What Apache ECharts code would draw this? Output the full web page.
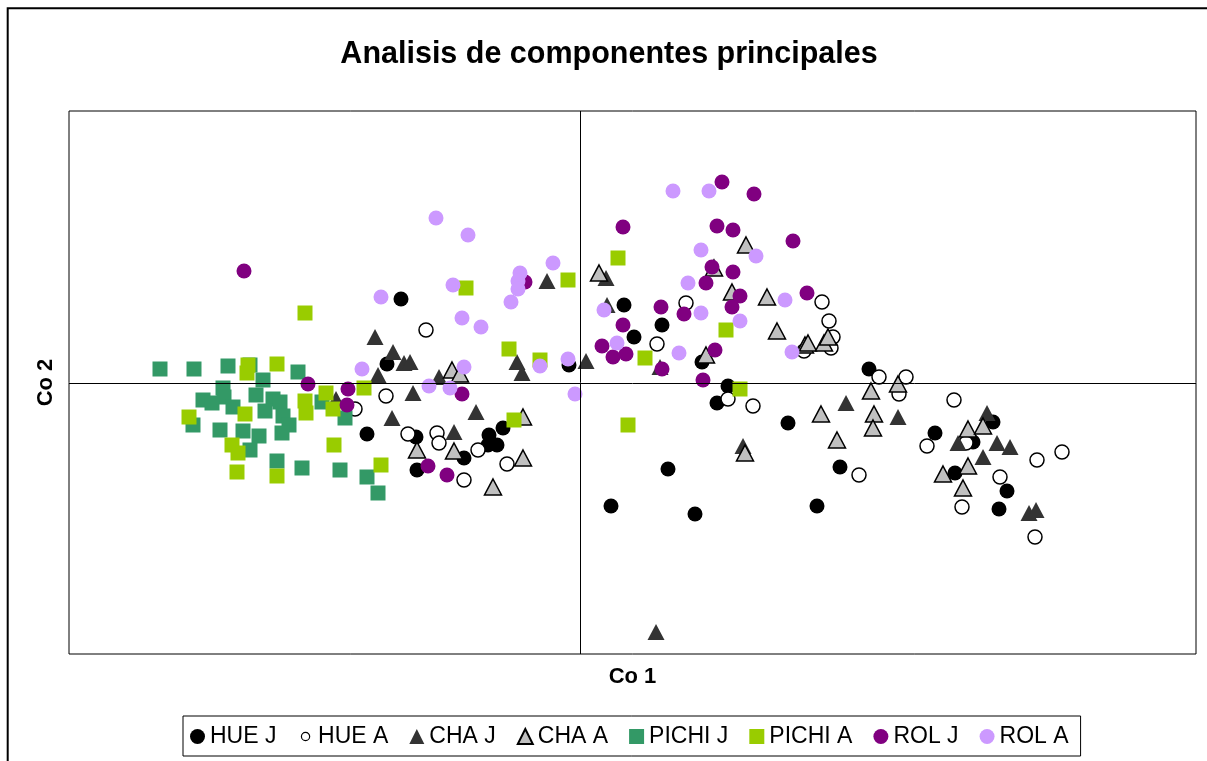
<!DOCTYPE html>
<html>
<head>
<meta charset="utf-8">
<script src="https://cdn.jsdelivr.net/npm/echarts@6/dist/echarts.min.js"></script>
<style>
  html, body { margin: 0; padding: 0; background: #fff; }
  #chart { width: 1207px; height: 761px; }
</style>
</head>
<body>
<div id="chart"></div>
<script>
// Principal component scores (Co 1, Co 2) per group
const hueJ = [
  [-1.79, 0.84], [-1.93, 0.19], [-0.11, 0.18], [-2.13, -0.51], [-1.64, -0.54],
  [-1.63, -0.87], [-1.16, -0.75], [-0.91, -0.52], [-0.77, -0.45], [-0.83, -0.62],
  [-0.92, -0.62], [0.44, 0.78], [0.82, 0.58], [0.54, 0.46], [1.22, 0.21],
  [1.48, -0.03], [1.37, -0.20], [2.08, -0.40], [0.88, -0.86], [0.31, -1.23],
  [1.15, -1.31], [2.37, -1.23], [2.89, 0.14], [3.55, -0.50], [4.13, -0.39],
  [3.93, -0.59], [3.75, -0.90], [4.27, -1.08], [4.19, -1.26], [2.60, -0.84]
];
const hueA = [
  [-1.54, 0.53], [-1.94, -0.13], [-2.25, -0.26], [-1.72, -0.51], [-1.43, -0.50],
  [-1.41, -0.60], [-1.02, -0.67], [-0.73, -0.81], [-1.16, -0.97], [1.06, 0.80],
  [0.77, 0.39], [2.42, 0.81], [2.49, 0.62], [2.53, 0.46], [2.51, 0.35],
  [2.24, 0.32], [1.48, -0.16], [1.73, -0.23], [2.99, 0.06], [3.26, 0.06],
  [3.19, -0.11], [3.74, -0.17], [3.47, -0.63], [2.79, -0.92], [4.57, -0.77],
  [4.82, -0.69], [4.20, -0.94], [3.82, -1.24], [4.55, -1.54], [3.86, -0.60]
];
const chaJ = [
  [-0.33, 1.02], [-2.05, 0.46], [-1.87, 0.31], [-1.76, 0.20], [-1.70, 0.21],
  [-2.02, 0.08], [-1.41, 0.06], [-0.63, 0.21], [-0.58, 0.10], [0.06, 0.22],
  [-1.67, -0.10], [-1.88, -0.35], [-1.04, -0.29], [-1.26, -0.49], [0.26, 1.05],
  [0.27, 0.78], [0.80, 0.16], [2.66, -0.20], [1.63, -0.63], [0.76, -2.49],
  [3.18, -0.34], [4.07, -0.30], [3.78, -0.60], [4.17, -0.60], [4.30, -0.64],
  [4.03, -0.74], [4.49, -1.30], [4.56, -1.27], [-2.44, -0.16]
];
const chaA = [
  [-1.28, 0.13], [-1.20, 0.09], [-0.57, -0.34], [-1.63, -0.67], [-1.26, -0.68],
  [-0.57, -0.75], [-0.87, -1.04], [0.19, 1.10], [1.66, 1.38], [1.34, 1.15],
  [1.52, 0.91], [1.87, 0.86], [1.97, 0.52], [1.26, 0.28], [2.25, 0.38],
  [2.28, 0.40], [2.44, 0.40], [2.48, 0.46], [2.91, -0.08], [3.18, -0.01],
  [2.41, -0.31], [2.94, -0.31], [2.93, -0.45], [2.57, -0.57], [3.88, -0.46],
  [4.03, -0.43], [3.88, -0.83], [3.63, -0.91], [3.83, -1.05], [1.65, -0.70]
];
const pichiJ = [
  [-4.20, 0.14], [-3.86, 0.14], [-3.52, 0.17], [-3.30, 0.18], [-2.82, 0.11],
  [-3.17, 0.03], [-3.57, -0.05], [-3.56, -0.14], [-3.77, -0.17], [-3.68, -0.20],
  [-3.47, -0.24], [-3.24, -0.12], [-3.07, -0.16], [-3.00, -0.19], [-3.15, -0.28],
  [-2.97, -0.33], [-2.91, -0.42], [-3.87, -0.42], [-3.60, -0.47], [-3.37, -0.48],
  [-3.21, -0.53], [-2.98, -0.50], [-3.30, -0.67], [-3.03, -0.78], [-2.78, -0.85],
  [-2.40, -0.87], [-2.13, -0.94], [-2.02, -1.10], [-2.35, -0.35], [-2.58, -0.19]
];
const pichiA = [
  [-2.75, 0.70], [-3.32, 0.18], [-3.33, 0.10], [-3.03, 0.19], [-3.91, -0.34],
  [-3.35, -0.31], [-2.75, -0.18], [-2.74, -0.30], [-2.54, -0.10], [-2.47, -0.26],
  [-2.16, -0.05], [-3.48, -0.62], [-3.42, -0.70], [-3.43, -0.89], [-3.03, -0.93],
  [-2.46, -0.62], [-1.99, -0.82], [-1.14, 0.95], [-0.12, 1.03], [-0.71, 0.34],
  [-0.40, 0.23], [-0.66, -0.37], [0.38, 1.25], [1.46, 0.53], [0.65, 0.25],
  [1.60, -0.06], [0.48, -0.42]
];
const rolJ = [
  [-3.36, 1.12], [-2.72, -0.01], [-2.32, -0.06], [-2.33, -0.22], [-1.18, -0.11],
  [-1.52, -0.83], [-1.33, -0.92], [-0.55, 1.01], [0.43, 0.58], [0.22, 0.37],
  [0.33, 0.26], [0.46, 0.29], [1.42, 2.01], [1.74, 1.89], [0.43, 1.56],
  [1.37, 1.57], [1.53, 1.53], [2.13, 1.42], [1.32, 1.16], [1.53, 1.11],
  [1.26, 1.00], [1.60, 0.87], [1.52, 0.76], [2.27, 0.90], [0.81, 0.76],
  [1.04, 0.69], [1.35, 0.33], [0.82, 0.14], [1.23, 0.03]
];
const rolA = [
  [-1.44, 1.65], [-1.12, 1.48], [-0.27, 1.20], [-0.60, 1.10], [-0.62, 1.02],
  [-0.62, 0.94], [-0.69, 0.81], [-1.27, 0.98], [-1.99, 0.86], [-1.18, 0.65],
  [-0.99, 0.56], [-2.18, 0.14], [-1.16, 0.16], [-1.51, -0.03], [-1.30, -0.05],
  [-0.40, 0.17], [-0.12, 0.24], [-0.05, -0.11], [0.93, 1.92], [1.29, 1.92],
  [1.21, 1.33], [1.76, 1.27], [1.08, 1.00], [1.21, 0.70], [1.60, 0.62],
  [2.05, 0.83], [0.24, 0.73], [0.37, 0.40], [0.99, 0.30], [2.12, 0.31]
];

const groupNames = ['HUE J', 'HUE A', 'CHA J', 'CHA A', 'PICHI J', 'PICHI A', 'ROL J', 'ROL A'];

const FONT = '"Liberation Sans", Arial, sans-serif';

function group(name, data, symbol, size, itemStyle) {
  itemStyle.opacity = 1;
  return {
    name: name,
    type: 'scatter',
    data: data,
    symbol: symbol,
    symbolSize: size,
    itemStyle: itemStyle,
    emphasis: { disabled: true }
  };
}

// the open-circle legend key is drawn smaller, inside a full-size box
const smallRing = 'path://M0,0M20,20M10,4.5A5.5,5.5,0,1,1,9.99,4.5Z';

const chart = echarts.init(document.getElementById('chart'), null, { renderer: 'canvas' });

chart.setOption({
  animation: false,
  backgroundColor: '#ffffff',
  textStyle: { fontFamily: FONT },
  title: {
    text: 'Analisis de componentes principales',
    left: 609,
    top: 39,
    textAlign: 'center',
    padding: 0,
    textStyle: { fontFamily: FONT, fontSize: 30.5, fontWeight: 'bold', color: '#000' }
  },
  graphic: [{
    type: 'rect',
    silent: true,
    shape: { x: 7.7, y: 8.3, width: 1300, height: 800 },
    style: { fill: 'none', stroke: '#000', lineWidth: 2 },
    z: -1
  }],
  grid: {
    left: 69, top: 111, right: 11, bottom: 107,
    show: true, borderColor: '#000', borderWidth: 1, backgroundColor: '#fff'
  },
  xAxis: {
    type: 'value', min: -5.11, max: 6.16,
    name: 'Co 1', nameLocation: 'middle', nameGap: 12,
    nameTextStyle: { fontFamily: FONT, fontSize: 22, fontWeight: 'bold', color: '#000' },
    axisLine: { show: false, onZero: false },
    axisTick: { show: false }, axisLabel: { show: false }, splitLine: { show: false }
  },
  yAxis: {
    type: 'value', min: -2.71, max: 2.72,
    name: 'Co 2', nameLocation: 'middle', nameGap: 12,
    nameTextStyle: { fontFamily: FONT, fontSize: 22, fontWeight: 'bold', color: '#000' },
    axisLine: { show: false, onZero: false },
    axisTick: { show: false }, axisLabel: { show: false }, splitLine: { show: false }
  },
  legend: {
    data: [
      'HUE J',
      { name: 'HUE A', icon: smallRing, itemStyle: { borderWidth: 1.2 } },
      'CHA J', 'CHA A', 'PICHI J', 'PICHI A', 'ROL J', 'ROL A'
    ],
    left: 183, top: 716,
    orient: 'horizontal',
    itemWidth: 15, itemHeight: 15,
    itemGap: 21,
    padding: [9, 12, 8, 7],
    borderColor: '#000', borderWidth: 1,
    textStyle: { fontFamily: FONT, fontSize: 23, color: '#000' },
    selectedMode: false
  },
  series: [
    {
      // crosshair through the origin
      type: 'scatter', data: [], z: 1, silent: true,
      markLine: {
        silent: true, symbol: 'none', animation: false,
        label: { show: false },
        lineStyle: { color: '#000', width: 1, type: 'solid' },
        emphasis: { disabled: true },
        data: [{ xAxis: 0 }, { yAxis: 0 }]
      }
    },
    group('HUE J', hueJ, 'circle', 15, { color: '#000000' }),
    group('HUE A', hueA, 'circle', 14, { color: '#ffffff', borderColor: '#000000', borderWidth: 1.5 }),
    group('CHA J', chaJ, 'triangle', [17, 16], { color: '#333333' }),
    group('CHA A', chaA, 'triangle', [17, 16], { color: '#c0c0c0', borderColor: '#000000', borderWidth: 1.5 }),
    group('PICHI J', pichiJ, 'rect', 15, { color: '#339966' }),
    group('PICHI A', pichiA, 'rect', 15, { color: '#99cc00' }),
    group('ROL J', rolJ, 'circle', 15, { color: '#800080' }),
    group('ROL A', rolA, 'circle', 15, { color: '#cc99ff' })
  ]
});
</script>
</body>
</html>
